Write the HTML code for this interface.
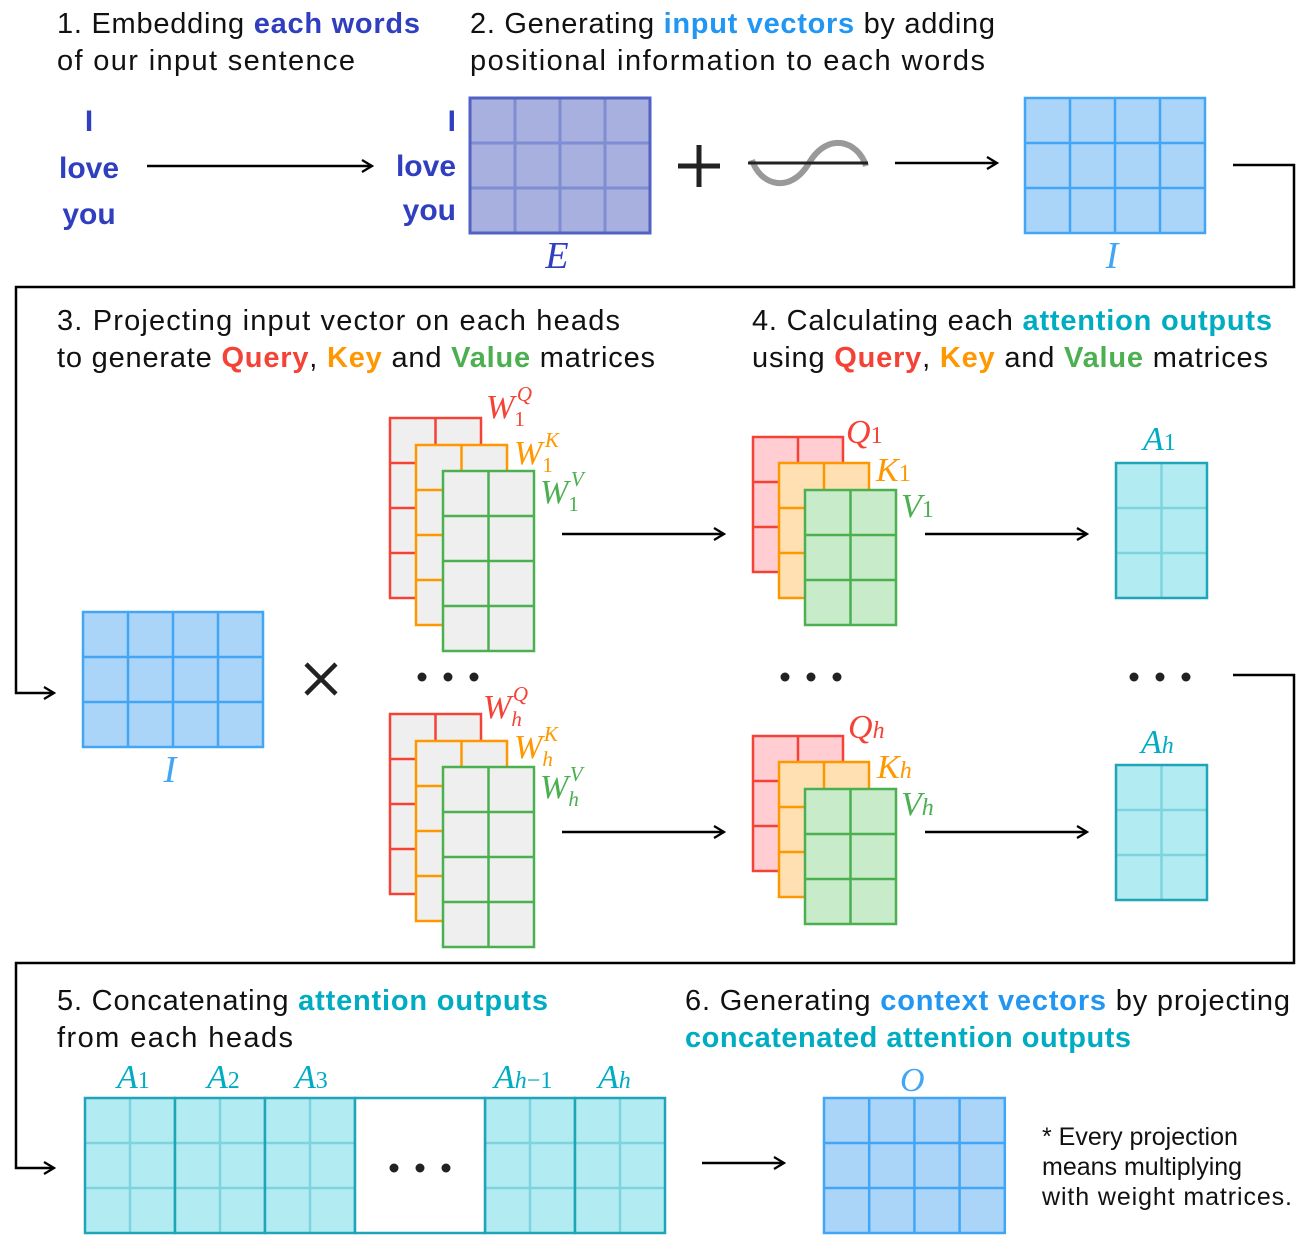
<!DOCTYPE html>
<html><head><meta charset="utf-8"><style>
body{margin:0;background:#fff}
svg{display:block}
.t{font-family:"Liberation Sans",sans-serif;font-size:29px;fill:#111}
.m{font-family:"Liberation Serif",serif;font-style:italic}
.w{font-family:"Liberation Sans",sans-serif;font-size:30px;fill:#2f3fbf;font-weight:bold}
</style></head><body>
<svg id="s" width="1306" height="1243" viewBox="0 0 1306 1243" xmlns="http://www.w3.org/2000/svg">
<defs><marker id="a" markerWidth="14" markerHeight="14" refX="12" refY="7" orient="auto" markerUnits="userSpaceOnUse"><path d="M2,1 L12,7 L2,13" fill="none" stroke="#000" stroke-width="2.2"/></marker></defs>
<g id="g"></g>
<!-- titles -->
<text class="t" x="57" y="33" textLength="363" lengthAdjust="spacing">1. Embedding <tspan fill="#2f3fbf" font-weight="bold">each words</tspan></text>
<text class="t" x="57" y="70" textLength="298" lengthAdjust="spacing">of our input sentence</text>
<text class="t" x="470" y="33" textLength="525" lengthAdjust="spacing">2. Generating <tspan fill="#2196f3" font-weight="bold">input vectors</tspan> by adding</text>
<text class="t" x="470" y="70" textLength="515" lengthAdjust="spacing">positional information to each words</text>
<text class="t" x="57" y="330" textLength="563" lengthAdjust="spacing">3. Projecting input vector on each heads</text>
<text class="t" x="57" y="367" textLength="598" lengthAdjust="spacing">to generate <tspan fill="#f44336" font-weight="bold">Query</tspan>, <tspan fill="#ff9800" font-weight="bold">Key</tspan> and <tspan fill="#4caf50" font-weight="bold">Value</tspan> matrices</text>
<text class="t" x="752" y="330" textLength="520" lengthAdjust="spacing">4. Calculating each <tspan fill="#00acc1" font-weight="bold">attention outputs</tspan></text>
<text class="t" x="752" y="367" textLength="516" lengthAdjust="spacing">using <tspan fill="#f44336" font-weight="bold">Query</tspan>, <tspan fill="#ff9800" font-weight="bold">Key</tspan> and <tspan fill="#4caf50" font-weight="bold">Value</tspan> matrices</text>
<text class="t" x="57" y="1010" textLength="491" lengthAdjust="spacing">5. Concatenating <tspan fill="#00acc1" font-weight="bold">attention outputs</tspan></text>
<text class="t" x="57" y="1047" textLength="236" lengthAdjust="spacing">from each heads</text>
<text class="t" x="685" y="1010" textLength="605" lengthAdjust="spacing">6. Generating <tspan fill="#2196f3" font-weight="bold">context vectors</tspan> by projecting</text>
<text class="t" x="685" y="1047" textLength="446" lengthAdjust="spacing" font-weight="bold" style="fill:#00acc1">concatenated attention outputs</text>
<!-- words -->
<text class="w" x="89" y="131" text-anchor="middle">I</text>
<text class="w" x="89" y="178" text-anchor="middle">love</text>
<text class="w" x="89" y="224" text-anchor="middle">you</text>
<text class="w" x="456" y="131" text-anchor="end">I</text>
<text class="w" x="456" y="176" text-anchor="end">love</text>
<text class="w" x="456" y="220" text-anchor="end">you</text>
<text class="m" x="557" y="268" font-size="38" fill="#2f3fbf" text-anchor="middle">E</text>
<text class="m" x="1112" y="268" font-size="38" fill="#42a5f5" text-anchor="middle">I</text>
<text class="m" x="170" y="782" font-size="38" fill="#42a5f5" text-anchor="middle">I</text>
<!-- plus, sine -->
<path d="M678,166 H720 M699,145 V187" stroke="#222" stroke-width="5"/>
<path d="M752,160 C760,185 790,195 809,163 C828,131 858,141 866,166" fill="none" stroke="#999" stroke-width="6"/>
<line x1="748" y1="163" x2="868" y2="163" stroke="#222" stroke-width="3"/>
<!-- arrows -->
<g stroke="#000" stroke-width="2.5" fill="none" marker-end="url(#a)">
<line x1="147" y1="166" x2="372" y2="166"/>
<line x1="895" y1="163" x2="997" y2="163"/>
<line x1="562" y1="534" x2="724" y2="534"/>
<line x1="925" y1="534" x2="1087" y2="534"/>
<line x1="562" y1="832" x2="724" y2="832"/>
<line x1="925" y1="832" x2="1087" y2="832"/>
<line x1="702" y1="1163" x2="784" y2="1163"/>
<polyline points="1233,165 1294,165 1294,287 16,287 16,693 54,693"/>
<polyline points="1233,675 1294,675 1294,963 16,963 16,1168 54,1168"/>
</g>
<path d="M306,664 L336,694 M336,664 L306,694" stroke="#222" stroke-width="4.5"/>
<g fill="#222"><circle cx="422" cy="677" r="4.5"/><circle cx="448" cy="677" r="4.5"/><circle cx="474" cy="677" r="4.5"/>
<circle cx="785" cy="677" r="4.5"/><circle cx="811" cy="677" r="4.5"/><circle cx="837" cy="677" r="4.5"/>
<circle cx="1134" cy="677" r="4.5"/><circle cx="1160" cy="677" r="4.5"/><circle cx="1186" cy="677" r="4.5"/>
<circle cx="394" cy="1168" r="4.5"/><circle cx="420" cy="1168" r="4.5"/><circle cx="446" cy="1168" r="4.5"/></g>
<!-- math labels -->
<g class="m" font-size="34">
<text x="486" y="418" fill="#f44336">W<tspan font-size="21" font-style="normal" dy="8">1</tspan><tspan font-size="21" dx="-8" dy="-25">Q</tspan></text>
<text x="514" y="464" fill="#ff9800">W<tspan font-size="21" font-style="normal" dy="8">1</tspan><tspan font-size="21" dx="-8" dy="-25">K</tspan></text>
<text x="540" y="503" fill="#4caf50">W<tspan font-size="21" font-style="normal" dy="8">1</tspan><tspan font-size="21" dx="-8" dy="-25">V</tspan></text>
<text x="483" y="718" fill="#f44336">W<tspan font-size="21" dy="8">h</tspan><tspan font-size="21" dx="-9" dy="-25">Q</tspan></text>
<text x="514" y="758" fill="#ff9800">W<tspan font-size="21" dy="8">h</tspan><tspan font-size="21" dx="-9" dy="-25">K</tspan></text>
<text x="540" y="798" fill="#4caf50">W<tspan font-size="21" dy="8">h</tspan><tspan font-size="21" dx="-9" dy="-25">V</tspan></text>
<text x="846" y="443" fill="#f44336">Q<tspan font-size="24" font-style="normal">1</tspan></text>
<text x="876" y="481" fill="#ff9800">K<tspan font-size="24" font-style="normal">1</tspan></text>
<text x="901" y="517" fill="#4caf50">V<tspan font-size="24" font-style="normal">1</tspan></text>
<text x="848" y="738" fill="#f44336">Q<tspan font-size="24">h</tspan></text>
<text x="877" y="778" fill="#ff9800">K<tspan font-size="24">h</tspan></text>
<text x="901" y="815" fill="#4caf50">V<tspan font-size="24">h</tspan></text>
<text x="1143" y="450" fill="#00acc1">A<tspan font-size="24" font-style="normal">1</tspan></text>
<text x="1141" y="753" fill="#00acc1">A<tspan font-size="24">h</tspan></text>
<text x="117" y="1088" fill="#00acc1">A<tspan font-size="24" font-style="normal">1</tspan></text>
<text x="207" y="1088" fill="#00acc1">A<tspan font-size="24" font-style="normal">2</tspan></text>
<text x="295" y="1088" fill="#00acc1">A<tspan font-size="24" font-style="normal">3</tspan></text>
<text x="494" y="1088" fill="#00acc1">A<tspan font-size="24">h</tspan><tspan font-size="24" font-style="normal">−1</tspan></text>
<text x="598" y="1088" fill="#00acc1">A<tspan font-size="24">h</tspan></text>
<text x="900" y="1091" fill="#42a5f5">O</text>
</g>
<text x="1042" y="1145" font-family="Liberation Sans,sans-serif" font-size="25" fill="#111">* Every projection</text>
<text x="1042" y="1175" font-family="Liberation Sans,sans-serif" font-size="25" fill="#111">means multiplying</text>
<text x="1042" y="1205" font-family="Liberation Sans,sans-serif" font-size="25" fill="#111" textLength="250" lengthAdjust="spacing">with weight matrices.</text>
</svg>
<script>
var g=document.getElementById('g'),NS='http://www.w3.org/2000/svg';
function el(n,a){var e=document.createElementNS(NS,n);for(var k in a)e.setAttribute(k,a[k]);g.appendChild(e);return e;}
function grid(x,y,c,r,cw,ch,fill,stroke,inner,sw){
 el('rect',{x:x,y:y,width:c*cw,height:r*ch,fill:fill});
 for(var i=1;i<c;i++)el('line',{x1:x+i*cw,y1:y,x2:x+i*cw,y2:y+r*ch,stroke:inner,'stroke-width':sw});
 for(var j=1;j<r;j++)el('line',{x1:x,y1:y+j*ch,x2:x+c*cw,y2:y+j*ch,stroke:inner,'stroke-width':sw});
 el('rect',{x:x,y:y,width:c*cw,height:r*ch,fill:'none',stroke:stroke,'stroke-width':sw});
}
grid(470,98,4,3,45,45,'#a7b0de','#5262c4','#7f8dd3',3);
grid(1025,98,4,3,45,45,'#aad4f8','#42a5f5','#42a5f5',2.5);
grid(83,612,4,3,45,45,'#aad4f8','#42a5f5','#42a5f5',2.5);
[0,296].forEach(function(d){
 grid(390,418+d,2,4,45.5,45,'#efefef','#f44336','#f44336',2.5);
 grid(416,445+d,2,4,45.5,45,'#efefef','#ff9800','#ff9800',2.5);
 grid(443,471+d,2,4,45.5,45,'#efefef','#4caf50','#4caf50',2.5);
});
[0,299].forEach(function(d){
 grid(753,437+d,2,3,45,45,'#ffcdd2','#f44336','#f44336',2.5);
 grid(779,463+d,2,3,45,45,'#ffe0b2','#ff9800','#ff9800',2.5);
 grid(805,490+d,2,3,45.5,45,'#c8ebc9','#4caf50','#4caf50',2.5);
});
grid(1116,463,2,3,45.5,45,'#b2ebf2','#1ea5b8','#7fd3de',2.5);
grid(1116,765,2,3,45.5,45,'#b2ebf2','#1ea5b8','#7fd3de',2.5);
[85,175,265,485,575].forEach(function(x){grid(x,1098,2,3,45,45,'#b2ebf2','#1ea5b8','#7fd3de',2.5);});
el('rect',{x:355,y:1098,width:130,height:135,fill:'#fff',stroke:'#1ea5b8','stroke-width':2.5});
grid(824,1098,4,3,45.2,45,'#aad4f8','#42a5f5','#42a5f5',2.5);
</script>
</body></html>
